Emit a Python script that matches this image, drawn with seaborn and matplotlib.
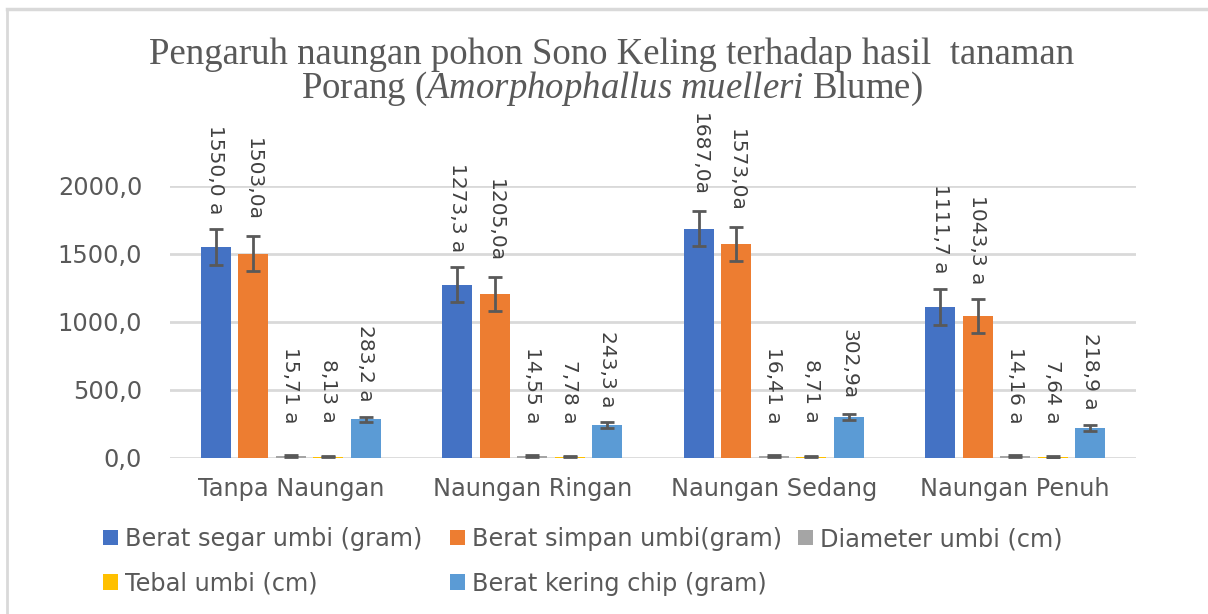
import numpy as np
import pandas as pd
import matplotlib
matplotlib.use("Agg")
import matplotlib.pyplot as plt
from matplotlib.patches import Patch
from matplotlib.lines import Line2D
from matplotlib.ticker import FuncFormatter
import seaborn as sns

# data
perlakuan = ['Tanpa Naungan', 'Naungan Ringan', 'Naungan Sedang', 'Naungan Penuh']
seri = ['Berat segar umbi (gram)', 'Berat simpan umbi(gram)', 'Diameter umbi (cm)',
        'Tebal umbi (cm)', 'Berat kering chip (gram)']

berat_segar = [1550.0, 1273.3, 1687.0, 1111.7]
berat_simpan = [1503.0, 1205.0, 1573.0, 1043.3]
diameter = [15.71, 14.55, 16.41, 14.16]
tebal = [8.13, 7.78, 8.71, 7.64]
berat_chip = [283.2, 243.3, 302.9, 218.9]

# label data seperti tertulis di grafik
label_segar = ['1550,0 a', '1273,3 a', '1687,0a', '1111,7 a']
label_simpan = ['1503,0a', '1205,0a', '1573,0a', '1043,3 a']
label_diameter = ['15,71 a', '14,55 a', '16,41 a', '14,16 a']
label_tebal = ['8,13 a', '7,78 a', '8,71 a', '7,64 a']
label_chip = ['283,2 a', '243,3 a', '302,9a', '218,9 a']

# panjang error bar (perkiraan dari gambar)
err_segar = [132, 128, 128, 132]
err_simpan = [128, 124, 126, 126]
err_diameter = [7, 7, 7, 7]
err_tebal = [4, 4, 4, 4]
err_chip = [20, 20, 22, 24]

warna = ['#4472C4', '#ED7D31', '#A5A5A5', '#FFC000', '#5B9BD5']
y_ticks = [0, 500, 1000, 1500, 2000]

nilai_seri = [berat_segar, berat_simpan, diameter, tebal, berat_chip]
err_seri = [err_segar, err_simpan, err_diameter, err_tebal, err_chip]
label_seri = [label_segar, label_simpan, label_diameter, label_tebal, label_chip]

tabel = pd.DataFrame({
    'Perlakuan': perlakuan * len(seri),
    'Peubah': np.repeat(seri, len(perlakuan)),
    'Nilai': sum(nilai_seri, []),
})

plt.rcParams['font.family'] = 'DejaVu Sans'
plt.rcParams['mathtext.fontset'] = 'custom'
plt.rcParams['mathtext.rm'] = 'Liberation Serif'
plt.rcParams['mathtext.it'] = 'Liberation Serif:italic'

W, H = 1208, 614
fig = plt.figure(figsize=(W / 100, H / 100), dpi=100)
ax = fig.add_axes([170 / W, 1 - 458 / H, 966 / W, 272 / H])

sns.barplot(data=tabel, x='Perlakuan', y='Nilai', hue='Peubah', order=perlakuan,
            hue_order=seri, palette=warna, saturation=1, width=0.775, gap=0.2,
            errorbar=None, legend=False, ax=ax, zorder=2)
ax.set_xlim(-0.5, len(perlakuan) - 0.5)

# error bar + label data
for bars, nilai, err, labels in zip(ax.containers, nilai_seri, err_seri, label_seri):
    xs = [b.get_x() + b.get_width() / 2 for b in bars]
    ax.errorbar(xs, nilai, yerr=err, fmt='none', ecolor='#595959', elinewidth=2,
                capsize=5, capthick=2, zorder=3)
    for x, v, e, teks in zip(xs, nilai, err, labels):
        y = max(v + e + 110, 256)
        ax.text(x, y, teks, rotation=270, ha='center', va='bottom',
                fontsize=14.5, color='#404040')

ax.set_ylim(0, 2000)
ax.set_yticks(y_ticks)
ax.yaxis.set_major_formatter(FuncFormatter(lambda v, p: f'{v:.1f}'.replace('.', ',')))
ax.tick_params(axis='y', length=0, pad=20, labelsize=17.3, labelcolor='#595959')
ax.tick_params(axis='x', length=0, pad=14, labelsize=17.3, labelcolor='#595959')
ax.yaxis.grid(True, color='#D9D9D9', lw=2)
ax.set_axisbelow(True)
for s in ax.spines.values():
    s.set_visible(False)
ax.set_xlabel('')
ax.set_ylabel('')

# legenda, tiga kolom
kolom = [[0, 3], [1, 4], [2]]
kolom_x = [103, 450, 798]
for idx, x0 in zip(kolom, kolom_x):
    handles = [Patch(facecolor=warna[i], edgecolor='none') for i in idx]
    fig.legend(handles, [seri[i] for i in idx], loc='upper left',
               bbox_to_anchor=(x0 / W, 1 - 527 / H), frameon=False, fontsize=17.3,
               labelcolor='#595959', handlelength=0.63, handleheight=0.63,
               handletextpad=0.3, labelspacing=0.86, borderpad=0, borderaxespad=0)

# judul
fig.text(612 / W, 1 - 64 / H, 'Pengaruh naungan pohon Sono Keling terhadap hasil  tanaman',
         ha='center', va='baseline', fontsize=26.5, family='Liberation Serif', color='#595959')
fig.text(612 / W, 1 - 98 / H, r'Porang ($\mathit{Amorphophallus\ muelleri}$ Blume)',
         ha='center', va='baseline', fontsize=26.5, family='Liberation Serif', color='#595959')

# bingkai
fig.add_artist(Line2D([7 / W, 1], [1 - 9 / H, 1 - 9 / H], transform=fig.transFigure,
                      color='#D9D9D9', lw=2.5))
fig.add_artist(Line2D([7 / W, 7 / W], [0, 1 - 9 / H], transform=fig.transFigure,
                      color='#D9D9D9', lw=2))

fig.savefig('out.png', dpi=100)
